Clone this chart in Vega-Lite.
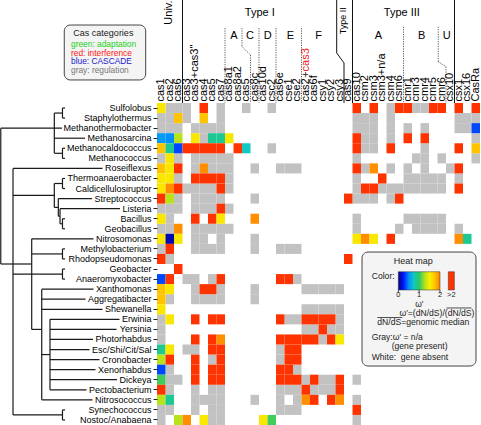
{
"$schema":"https://vega.github.io/schema/vega-lite/v6.json",
"width":323,"height":322,
"autosize":{"type":"none"},
"padding":{"left":157,"top":103,"right":1,"bottom":0},
"background":"white",
"config":{"view":{"stroke":null},"font":"Liberation Sans"},
"resolve":{"scale":{"x":"independent","y":"independent","color":"independent"}},
"layer":[
{
"data":{"values":[
{"org":"Sulfolobus","gene":0,"w":1.55},{"org":"Sulfolobus","gene":1},{"org":"Sulfolobus","gene":2},{"org":"Sulfolobus","gene":3},{"org":"Sulfolobus","gene":5,"w":3},{"org":"Sulfolobus","gene":7},{"org":"Sulfolobus","gene":10},{"org":"Sulfolobus","gene":13},{"org":"Sulfolobus","gene":23,"w":3},{"org":"Sulfolobus","gene":25,"w":3},{"org":"Sulfolobus","gene":27},{"org":"Sulfolobus","gene":28,"w":3},{"org":"Sulfolobus","gene":29,"w":3},{"org":"Sulfolobus","gene":30},{"org":"Sulfolobus","gene":31},{"org":"Sulfolobus","gene":32,"w":3},{"org":"Sulfolobus","gene":33,"w":3},{"org":"Sulfolobus","gene":35,"w":3},{"org":"Sulfolobus","gene":37,"w":3},
{"org":"Staphylothermus","gene":0},{"org":"Staphylothermus","gene":1},{"org":"Staphylothermus","gene":2,"w":1.75},{"org":"Staphylothermus","gene":3},{"org":"Staphylothermus","gene":5,"w":1.75},{"org":"Staphylothermus","gene":7},{"org":"Staphylothermus","gene":23},{"org":"Staphylothermus","gene":24},{"org":"Staphylothermus","gene":25},{"org":"Staphylothermus","gene":27},{"org":"Staphylothermus","gene":35},{"org":"Staphylothermus","gene":36},{"org":"Staphylothermus","gene":37},
{"org":"Methanothermobacter","gene":0},{"org":"Methanothermobacter","gene":1},{"org":"Methanothermobacter","gene":2},{"org":"Methanothermobacter","gene":4},{"org":"Methanothermobacter","gene":5},{"org":"Methanothermobacter","gene":6},{"org":"Methanothermobacter","gene":7},{"org":"Methanothermobacter","gene":23},{"org":"Methanothermobacter","gene":24},{"org":"Methanothermobacter","gene":25},{"org":"Methanothermobacter","gene":27},{"org":"Methanothermobacter","gene":29},{"org":"Methanothermobacter","gene":31},{"org":"Methanothermobacter","gene":35},{"org":"Methanothermobacter","gene":36},{"org":"Methanothermobacter","gene":37,"w":0.35},
{"org":"Methanosarcina","gene":0,"w":0.55},{"org":"Methanosarcina","gene":1,"w":0.5},{"org":"Methanosarcina","gene":2,"w":1.3},{"org":"Methanosarcina","gene":4,"w":1.55},{"org":"Methanosarcina","gene":5},{"org":"Methanosarcina","gene":6,"w":0.88},{"org":"Methanosarcina","gene":7,"w":0.88},{"org":"Methanosarcina","gene":8,"w":1.55},{"org":"Methanosarcina","gene":23,"w":3},{"org":"Methanosarcina","gene":24},{"org":"Methanosarcina","gene":25},{"org":"Methanosarcina","gene":27},{"org":"Methanosarcina","gene":29,"w":3},{"org":"Methanosarcina","gene":31,"w":3},{"org":"Methanosarcina","gene":37},
{"org":"Methanocaldococcus","gene":0,"w":1.75},{"org":"Methanocaldococcus","gene":1,"w":0.88},{"org":"Methanocaldococcus","gene":2,"w":0.35},{"org":"Methanocaldococcus","gene":3,"w":3},{"org":"Methanocaldococcus","gene":4,"w":3},{"org":"Methanocaldococcus","gene":5,"w":3},{"org":"Methanocaldococcus","gene":6,"w":3},{"org":"Methanocaldococcus","gene":7,"w":3},{"org":"Methanocaldococcus","gene":9,"w":3},{"org":"Methanocaldococcus","gene":10,"w":0.75},{"org":"Methanocaldococcus","gene":13},{"org":"Methanocaldococcus","gene":23,"w":3},{"org":"Methanocaldococcus","gene":24},{"org":"Methanocaldococcus","gene":25},{"org":"Methanocaldococcus","gene":27,"w":3},{"org":"Methanocaldococcus","gene":31},{"org":"Methanocaldococcus","gene":35,"w":3},{"org":"Methanocaldococcus","gene":37,"w":1.75},
{"org":"Methanococcus","gene":0},{"org":"Methanococcus","gene":1,"w":1.55},{"org":"Methanococcus","gene":2},{"org":"Methanococcus","gene":4},{"org":"Methanococcus","gene":5},{"org":"Methanococcus","gene":6},{"org":"Methanococcus","gene":7},{"org":"Methanococcus","gene":8},{"org":"Methanococcus","gene":23},{"org":"Methanococcus","gene":30},{"org":"Methanococcus","gene":31},{"org":"Methanococcus","gene":33},{"org":"Methanococcus","gene":37},
{"org":"Roseiflexus","gene":0,"w":1.75},{"org":"Roseiflexus","gene":1,"w":1.55},{"org":"Roseiflexus","gene":2,"w":3},{"org":"Roseiflexus","gene":4},{"org":"Roseiflexus","gene":5,"w":1.95},{"org":"Roseiflexus","gene":6},{"org":"Roseiflexus","gene":7},{"org":"Roseiflexus","gene":8},{"org":"Roseiflexus","gene":11},{"org":"Roseiflexus","gene":14},{"org":"Roseiflexus","gene":15},{"org":"Roseiflexus","gene":16},{"org":"Roseiflexus","gene":23,"w":3},{"org":"Roseiflexus","gene":24},{"org":"Roseiflexus","gene":25,"w":1.95},{"org":"Roseiflexus","gene":27},{"org":"Roseiflexus","gene":29},{"org":"Roseiflexus","gene":31},{"org":"Roseiflexus","gene":34},{"org":"Roseiflexus","gene":35,"w":3},
{"org":"Thermoanaerobacter","gene":0,"w":1.55},{"org":"Thermoanaerobacter","gene":1,"w":1.55},{"org":"Thermoanaerobacter","gene":2},{"org":"Thermoanaerobacter","gene":4,"w":3},{"org":"Thermoanaerobacter","gene":5,"w":3},{"org":"Thermoanaerobacter","gene":6,"w":3},{"org":"Thermoanaerobacter","gene":7,"w":3},{"org":"Thermoanaerobacter","gene":8},{"org":"Thermoanaerobacter","gene":23},{"org":"Thermoanaerobacter","gene":26,"w":3},{"org":"Thermoanaerobacter","gene":29},{"org":"Thermoanaerobacter","gene":30},{"org":"Thermoanaerobacter","gene":31},{"org":"Thermoanaerobacter","gene":32},{"org":"Thermoanaerobacter","gene":33},{"org":"Thermoanaerobacter","gene":35},
{"org":"Caldicellulosiruptor","gene":0,"w":1.55},{"org":"Caldicellulosiruptor","gene":1,"w":1.95},{"org":"Caldicellulosiruptor","gene":2,"w":3},{"org":"Caldicellulosiruptor","gene":3},{"org":"Caldicellulosiruptor","gene":4},{"org":"Caldicellulosiruptor","gene":5},{"org":"Caldicellulosiruptor","gene":6},{"org":"Caldicellulosiruptor","gene":7,"w":3},{"org":"Caldicellulosiruptor","gene":8},{"org":"Caldicellulosiruptor","gene":23},{"org":"Caldicellulosiruptor","gene":24,"w":3},{"org":"Caldicellulosiruptor","gene":25,"w":3},{"org":"Caldicellulosiruptor","gene":26},{"org":"Caldicellulosiruptor","gene":27},{"org":"Caldicellulosiruptor","gene":28},{"org":"Caldicellulosiruptor","gene":29},{"org":"Caldicellulosiruptor","gene":30},{"org":"Caldicellulosiruptor","gene":31},{"org":"Caldicellulosiruptor","gene":32},{"org":"Caldicellulosiruptor","gene":33},{"org":"Caldicellulosiruptor","gene":35,"w":3},
{"org":"Streptococcus","gene":0,"w":3},{"org":"Streptococcus","gene":1,"w":1.3},{"org":"Streptococcus","gene":2},{"org":"Streptococcus","gene":4},{"org":"Streptococcus","gene":5},{"org":"Streptococcus","gene":6},{"org":"Streptococcus","gene":7},{"org":"Streptococcus","gene":11},{"org":"Streptococcus","gene":22,"w":3},{"org":"Streptococcus","gene":23},{"org":"Streptococcus","gene":24},{"org":"Streptococcus","gene":25},{"org":"Streptococcus","gene":27},{"org":"Streptococcus","gene":28,"w":3},
{"org":"Listeria","gene":0},{"org":"Listeria","gene":1},{"org":"Listeria","gene":2},{"org":"Listeria","gene":4},{"org":"Listeria","gene":5},{"org":"Listeria","gene":6},{"org":"Listeria","gene":7,"w":3},{"org":"Listeria","gene":8},
{"org":"Bacillus","gene":0,"w":1.55},{"org":"Bacillus","gene":1},{"org":"Bacillus","gene":4,"w":3},{"org":"Bacillus","gene":6,"w":3},{"org":"Bacillus","gene":7,"w":1.55},{"org":"Bacillus","gene":11,"w":1.95},{"org":"Bacillus","gene":23},{"org":"Bacillus","gene":29},{"org":"Bacillus","gene":30},{"org":"Bacillus","gene":31},{"org":"Bacillus","gene":32},{"org":"Bacillus","gene":33},
{"org":"Geobacillus","gene":0},{"org":"Geobacillus","gene":1},{"org":"Geobacillus","gene":2,"w":1.95},{"org":"Geobacillus","gene":4},{"org":"Geobacillus","gene":5},{"org":"Geobacillus","gene":6},{"org":"Geobacillus","gene":7},{"org":"Geobacillus","gene":8},{"org":"Geobacillus","gene":23},{"org":"Geobacillus","gene":28},{"org":"Geobacillus","gene":30},{"org":"Geobacillus","gene":31},{"org":"Geobacillus","gene":32},{"org":"Geobacillus","gene":33},{"org":"Geobacillus","gene":35},
{"org":"Nitrosomonas","gene":0,"w":1.55},{"org":"Nitrosomonas","gene":1,"w":0.1},{"org":"Nitrosomonas","gene":2,"w":1.55},{"org":"Nitrosomonas","gene":4},{"org":"Nitrosomonas","gene":5},{"org":"Nitrosomonas","gene":7},{"org":"Nitrosomonas","gene":11},{"org":"Nitrosomonas","gene":23,"w":1.55},{"org":"Nitrosomonas","gene":24,"w":1.95},{"org":"Nitrosomonas","gene":25,"w":1.55},{"org":"Nitrosomonas","gene":27,"w":3},{"org":"Nitrosomonas","gene":35,"w":1.95},{"org":"Nitrosomonas","gene":36,"w":0.88},
{"org":"Methylobacterium","gene":0},{"org":"Methylobacterium","gene":1,"w":3},{"org":"Methylobacterium","gene":4},{"org":"Methylobacterium","gene":5},{"org":"Methylobacterium","gene":6},{"org":"Methylobacterium","gene":7},{"org":"Methylobacterium","gene":11},{"org":"Methylobacterium","gene":14},{"org":"Methylobacterium","gene":15},{"org":"Methylobacterium","gene":16},
{"org":"Rhodopseudomonas","gene":0,"w":3},{"org":"Rhodopseudomonas","gene":1},{"org":"Rhodopseudomonas","gene":22,"w":3},
{"org":"Geobacter","gene":2,"w":3},
{"org":"Anaeromyxobacter","gene":0,"w":0.35},{"org":"Anaeromyxobacter","gene":1,"w":3},{"org":"Anaeromyxobacter","gene":3},{"org":"Anaeromyxobacter","gene":4},{"org":"Anaeromyxobacter","gene":6},{"org":"Anaeromyxobacter","gene":7,"w":3},{"org":"Anaeromyxobacter","gene":14,"w":3},{"org":"Anaeromyxobacter","gene":15,"w":3},{"org":"Anaeromyxobacter","gene":16},
{"org":"Xanthomonas","gene":0,"w":1.75},{"org":"Xanthomonas","gene":1,"w":1.55},{"org":"Xanthomonas","gene":4},{"org":"Xanthomonas","gene":5,"w":3},{"org":"Xanthomonas","gene":6,"w":3},{"org":"Xanthomonas","gene":7},{"org":"Xanthomonas","gene":11},{"org":"Xanthomonas","gene":17},{"org":"Xanthomonas","gene":18},{"org":"Xanthomonas","gene":19},{"org":"Xanthomonas","gene":20},{"org":"Xanthomonas","gene":21},
{"org":"Aggregatibacter","gene":0,"w":1.75},{"org":"Aggregatibacter","gene":1},{"org":"Aggregatibacter","gene":4},{"org":"Aggregatibacter","gene":5},{"org":"Aggregatibacter","gene":6},{"org":"Aggregatibacter","gene":7},{"org":"Aggregatibacter","gene":11},
{"org":"Shewanella","gene":0,"w":1.55},{"org":"Shewanella","gene":17},{"org":"Shewanella","gene":18},{"org":"Shewanella","gene":19},{"org":"Shewanella","gene":20},{"org":"Shewanella","gene":21},
{"org":"Erwinia","gene":0},{"org":"Erwinia","gene":1,"w":1.55},{"org":"Erwinia","gene":4,"w":3},{"org":"Erwinia","gene":6,"w":3},{"org":"Erwinia","gene":7,"w":3},{"org":"Erwinia","gene":14,"w":3},{"org":"Erwinia","gene":15},{"org":"Erwinia","gene":16},{"org":"Erwinia","gene":17,"w":3},{"org":"Erwinia","gene":18,"w":3},{"org":"Erwinia","gene":19,"w":3},{"org":"Erwinia","gene":20,"w":3},{"org":"Erwinia","gene":21},
{"org":"Yersinia","gene":0},{"org":"Yersinia","gene":17},{"org":"Yersinia","gene":18},{"org":"Yersinia","gene":19,"w":3},{"org":"Yersinia","gene":20},{"org":"Yersinia","gene":21},
{"org":"Photorhabdus","gene":0},{"org":"Photorhabdus","gene":4,"w":3},{"org":"Photorhabdus","gene":6,"w":3},{"org":"Photorhabdus","gene":7,"w":1.95},{"org":"Photorhabdus","gene":14,"w":3},{"org":"Photorhabdus","gene":15,"w":3},{"org":"Photorhabdus","gene":16,"w":3},{"org":"Photorhabdus","gene":17,"w":3},{"org":"Photorhabdus","gene":18,"w":3},{"org":"Photorhabdus","gene":19},{"org":"Photorhabdus","gene":20,"w":3},{"org":"Photorhabdus","gene":21,"w":1.55},
{"org":"Esc/Shi/Cit/Sal","gene":0,"w":0.88},{"org":"Esc/Shi/Cit/Sal","gene":1,"w":1.55},{"org":"Esc/Shi/Cit/Sal","gene":3},{"org":"Esc/Shi/Cit/Sal","gene":4},{"org":"Esc/Shi/Cit/Sal","gene":6,"w":3},{"org":"Esc/Shi/Cit/Sal","gene":7,"w":3},{"org":"Esc/Shi/Cit/Sal","gene":14},{"org":"Esc/Shi/Cit/Sal","gene":15,"w":3},{"org":"Esc/Shi/Cit/Sal","gene":16,"w":3},
{"org":"Cronobacter","gene":0,"w":1.3},{"org":"Cronobacter","gene":1,"w":3},{"org":"Cronobacter","gene":4,"w":3},{"org":"Cronobacter","gene":6},{"org":"Cronobacter","gene":7,"w":3},{"org":"Cronobacter","gene":14},{"org":"Cronobacter","gene":15,"w":3},{"org":"Cronobacter","gene":16,"w":3},
{"org":"Xenorhabdus","gene":0,"w":0.35},{"org":"Xenorhabdus","gene":1},{"org":"Xenorhabdus","gene":4,"w":3},{"org":"Xenorhabdus","gene":6,"w":3},{"org":"Xenorhabdus","gene":7,"w":3},{"org":"Xenorhabdus","gene":14,"w":3},{"org":"Xenorhabdus","gene":15,"w":3},{"org":"Xenorhabdus","gene":16},
{"org":"Dickeya","gene":0,"w":1.05},{"org":"Dickeya","gene":1},{"org":"Dickeya","gene":2},{"org":"Dickeya","gene":4,"w":3},{"org":"Dickeya","gene":6,"w":3},{"org":"Dickeya","gene":7,"w":3},{"org":"Dickeya","gene":14,"w":3},{"org":"Dickeya","gene":15,"w":3},{"org":"Dickeya","gene":16,"w":3},{"org":"Dickeya","gene":17},{"org":"Dickeya","gene":18,"w":3},{"org":"Dickeya","gene":19},{"org":"Dickeya","gene":20},{"org":"Dickeya","gene":21,"w":3},{"org":"Dickeya","gene":23},
{"org":"Pectobacterium","gene":0,"w":3},{"org":"Pectobacterium","gene":1},{"org":"Pectobacterium","gene":4},{"org":"Pectobacterium","gene":6},{"org":"Pectobacterium","gene":7},{"org":"Pectobacterium","gene":14},{"org":"Pectobacterium","gene":15},{"org":"Pectobacterium","gene":16},{"org":"Pectobacterium","gene":17,"w":3},{"org":"Pectobacterium","gene":18},{"org":"Pectobacterium","gene":19},{"org":"Pectobacterium","gene":20},{"org":"Pectobacterium","gene":21,"w":3},
{"org":"Nitrosococcus","gene":0,"w":1.3},{"org":"Nitrosococcus","gene":1,"w":0.88},{"org":"Nitrosococcus","gene":4},{"org":"Nitrosococcus","gene":5},{"org":"Nitrosococcus","gene":6},{"org":"Nitrosococcus","gene":7},{"org":"Nitrosococcus","gene":11},{"org":"Nitrosococcus","gene":14},{"org":"Nitrosococcus","gene":16},{"org":"Nitrosococcus","gene":17,"w":1.95},{"org":"Nitrosococcus","gene":18,"w":3},{"org":"Nitrosococcus","gene":20,"w":3},{"org":"Nitrosococcus","gene":21,"w":1.95},{"org":"Nitrosococcus","gene":23},
{"org":"Synechococcus","gene":0},{"org":"Synechococcus","gene":1},{"org":"Synechococcus","gene":4},{"org":"Synechococcus","gene":6},{"org":"Synechococcus","gene":7},{"org":"Synechococcus","gene":14},{"org":"Synechococcus","gene":15},{"org":"Synechococcus","gene":16},{"org":"Synechococcus","gene":23,"w":3},
{"org":"Nostoc/Anabaena","gene":0},{"org":"Nostoc/Anabaena","gene":2,"w":1.3},{"org":"Nostoc/Anabaena","gene":3,"w":1.95},{"org":"Nostoc/Anabaena","gene":5,"w":1.55},{"org":"Nostoc/Anabaena","gene":6},{"org":"Nostoc/Anabaena","gene":7},{"org":"Nostoc/Anabaena","gene":12,"w":1.55},{"org":"Nostoc/Anabaena","gene":13,"w":1.05},{"org":"Nostoc/Anabaena","gene":23}
]},
"encoding":{
"x":{"field":"gene","type":"ordinal","scale":{"domain":[0,1,2,3,4,5,6,7,8,9,10,11,12,13,14,15,16,17,18,19,20,21,22,23,24,25,26,27,28,29,30,31,32,33,34,35,36,37],"paddingInner":0,"paddingOuter":0},
"axis":{"orient":"top","title":null,"labelAngle":-90,"labelAlign":"left","labelBaseline":"middle","labelFontSize":11,"labelPadding":2,"ticks":false,"tickSize":0,"domain":false,"labelOverlap":false,"labelBound":false,"labelFlush":false,
"labelExpr":"[\"cas1\",\"cas2\",\"cas6\",\"cas3\",\"cas3+cas3''\",\"cas4\",\"cas5\",\"cas7\",\"cas8a1\",\"cas8a2\",\"cas5\",\"cas8c\",\"cas10d\",\"csc2\",\"cas6e\",\"cse1\",\"cse2\",\"cas2\",\"cas6f\",\"csy1\",\"csy2\",\"csy3\",\"cas9\",\"cas10\",\"csm2\",\"csm3\",\"csm3+n/a\",\"csm4\",\"csm6\",\"cmr1\",\"cmr3\",\"cmr4\",\"cmr5\",\"cmr6\",\"csx10\",\"csx1\",\"csx16\",\"CasRa\"][datum.value]",
"encode":{"labels":{"update":{"fill":{"signal":"['#22cc22','#22cc22','#2222cc','#ee2222','#ee2222','#22cc22','#2222cc','#2222cc','#2222cc','#2222cc','#2222cc','#2222cc','#2222cc','#2222cc','#2222cc','#2222cc','#2222cc','#22cc22','#2222cc','#2222cc','#2222cc','#2222cc','#222222','#2222cc','#2222cc','#2222cc','#2222cc','#2222cc','#a6a6a6','#2222cc','#2222cc','#2222cc','#2222cc','#2222cc','#2222cc','#a6a6a6','#a6a6a6','#a6a6a6'][datum.value]"}}}}}},
"y":{"field":"org","type":"nominal","scale":{"domain":["Sulfolobus","Staphylothermus","Methanothermobacter","Methanosarcina","Methanocaldococcus","Methanococcus","Roseiflexus","Thermoanaerobacter","Caldicellulosiruptor","Streptococcus","Listeria","Bacillus","Geobacillus","Nitrosomonas","Methylobacterium","Rhodopseudomonas","Geobacter","Anaeromyxobacter","Xanthomonas","Aggregatibacter","Shewanella","Erwinia","Yersinia","Photorhabdus","Esc/Shi/Cit/Sal","Cronobacter","Xenorhabdus","Dickeya","Pectobacterium","Nitrosococcus","Synechococcus","Nostoc/Anabaena"],"paddingInner":0,"paddingOuter":0},
"axis":{"orient":"left","title":null,"labelFontSize":9,"labelColor":"#000","labelPadding":2,"tickSize":4,"tickColor":"#222","tickWidth":1,"domain":false,"labelOverlap":false,"labelBound":false}}
},
"layer":[
{"transform":[{"filter":"!isValid(datum.w)"}],"mark":{"type":"rect","color":"#c2c2c2"}},
{"transform":[{"filter":"isValid(datum.w)"}],"mark":{"type":"rect"},
"encoding":{"color":{"field":"w","type":"quantitative","legend":null,"scale":{"type":"linear","domain":[0,0.25,0.5,0.75,1,1.25,1.5,1.75,2,2.01,10],"range":["#00007f","#0018ff","#0090ff","#12c8c0","#28c868","#a8e020","#f8f000","#ffc400","#ff8000","#ff3300","#ff3300"],"interpolate":"rgb","clamp":true,"zero":false,"nice":false}}}}
]
},
{
"encoding":{
"x":{"field":"x","type":"quantitative","scale":{"domain":[0,38],"nice":false,"zero":false},"axis":null},
"y":{"field":"y","type":"quantitative","scale":{"domain":[0,32],"nice":false,"zero":false,"reverse":true},"axis":null}
},
"layer":[
{"data":{"values":[
{"x":-18.38,"x2":-18.38,"y":2.5,"y2":16},
{"x":-18.38,"x2":-11.18,"y":2.5,"y2":2.5},
{"x":-18.38,"x2":-14.74,"y":16,"y2":16},
{"x":-12.08,"x2":-12.08,"y":1,"y2":5},
{"x":-12.08,"x2":-11.12,"y":1,"y2":1},
{"x":-11.12,"x2":-11.12,"y":0.5,"y2":1.5},
{"x":-11.12,"x2":-10.82,"y":0.5,"y2":0.5},
{"x":-11.12,"x2":-10.82,"y":1.5,"y2":1.5},
{"x":-12.08,"x2":-8.47,"y":3.5,"y2":3.5},
{"x":-12.08,"x2":-11.12,"y":5,"y2":5},
{"x":-11.12,"x2":-11.12,"y":4.5,"y2":5.5},
{"x":-11.12,"x2":-10.82,"y":4.5,"y2":4.5},
{"x":-11.12,"x2":-10.82,"y":5.5,"y2":5.5},
{"x":-16.94,"x2":-16.94,"y":6.5,"y2":31},
{"x":-16.94,"x2":-6.41,"y":6.5,"y2":6.5},
{"x":-16.94,"x2":-12.08,"y":9.19,"y2":9.19},
{"x":-16.94,"x2":-11.12,"y":17,"y2":17},
{"x":-11.12,"x2":-11.12,"y":16.5,"y2":17.5},
{"x":-11.12,"x2":-10.82,"y":16.5,"y2":16.5},
{"x":-11.12,"x2":-10.82,"y":17.5,"y2":17.5},
{"x":-16.94,"x2":-11.12,"y":31,"y2":31},
{"x":-11.12,"x2":-11.12,"y":30.5,"y2":31.5},
{"x":-11.12,"x2":-10.82,"y":30.5,"y2":30.5},
{"x":-11.12,"x2":-10.82,"y":31.5,"y2":31.5},
{"x":-12.08,"x2":-12.08,"y":8,"y2":10.375},
{"x":-12.08,"x2":-11.12,"y":8,"y2":8},
{"x":-11.12,"x2":-11.12,"y":7.5,"y2":8.5},
{"x":-11.12,"x2":-10.82,"y":7.5,"y2":7.5},
{"x":-11.12,"x2":-10.82,"y":8.5,"y2":8.5},
{"x":-12.08,"x2":-11.61,"y":10.375,"y2":10.375},
{"x":-11.61,"x2":-11.61,"y":9.5,"y2":11.25},
{"x":-11.61,"x2":-7.65,"y":9.5,"y2":9.5},
{"x":-11.61,"x2":-11.41,"y":11.25,"y2":11.25},
{"x":-11.41,"x2":-11.41,"y":10.5,"y2":12},
{"x":-11.41,"x2":-4.35,"y":10.5,"y2":10.5},
{"x":-11.41,"x2":-11.12,"y":12,"y2":12},
{"x":-11.12,"x2":-11.12,"y":11.5,"y2":12.5},
{"x":-11.12,"x2":-10.82,"y":11.5,"y2":11.5},
{"x":-11.12,"x2":-10.82,"y":12.5,"y2":12.5},
{"x":-14.74,"x2":-14.74,"y":13.5,"y2":22.5},
{"x":-14.74,"x2":-7.47,"y":13.5,"y2":13.5},
{"x":-14.74,"x2":-11.12,"y":15,"y2":15},
{"x":-11.12,"x2":-11.12,"y":14.5,"y2":15.5},
{"x":-11.12,"x2":-10.82,"y":14.5,"y2":14.5},
{"x":-11.12,"x2":-10.82,"y":15.5,"y2":15.5},
{"x":-14.74,"x2":-13.56,"y":22.5,"y2":22.5},
{"x":-13.56,"x2":-13.56,"y":18.5,"y2":29.5},
{"x":-13.56,"x2":-7.47,"y":18.5,"y2":18.5},
{"x":-13.56,"x2":-8.41,"y":19.5,"y2":19.5},
{"x":-13.56,"x2":-6.41,"y":20.5,"y2":20.5},
{"x":-13.56,"x2":-12.59,"y":25,"y2":25},
{"x":-13.56,"x2":-7.59,"y":29.5,"y2":29.5},
{"x":-12.59,"x2":-12.59,"y":21.5,"y2":28.5},
{"x":-12.59,"x2":-4.41,"y":21.5,"y2":21.5},
{"x":-12.59,"x2":-4.76,"y":22.5,"y2":22.5},
{"x":-12.59,"x2":-7.53,"y":23.5,"y2":23.5},
{"x":-12.59,"x2":-7.94,"y":24.5,"y2":24.5},
{"x":-12.59,"x2":-6.76,"y":25.5,"y2":25.5},
{"x":-12.59,"x2":-7.24,"y":26.5,"y2":26.5},
{"x":-12.59,"x2":-4.71,"y":27.5,"y2":27.5},
{"x":-12.59,"x2":-8.29,"y":28.5,"y2":28.5}
]},"mark":{"type":"rule","color":"#1a1a1a","strokeWidth":1.2},"encoding":{"x2":{"field":"x2"},"y2":{"field":"y2"}}},
{"data":{"values":[
{"x":3,"x2":3,"y":-10.3,"y2":0},
{"x":21.14,"x2":21.14,"y":-10.3,"y2":-4.97},
{"x":21.14,"x2":22,"y":-4.97,"y2":-3.98},
{"x":22,"x2":22,"y":-3.98,"y2":0},
{"x":23,"x2":23,"y":-10.3,"y2":0},
{"x":35,"x2":35,"y":-10.3,"y2":0}
]},"mark":{"type":"rule","color":"#111","strokeWidth":1},"encoding":{"x2":{"field":"x2"},"y2":{"field":"y2"}}},
{"data":{"values":[
{"x":8,"x2":8,"y":-7.45,"y2":0},
{"x":10,"x2":10,"y":-7.45,"y2":-5.6},
{"x":10,"x2":11,"y":-5.6,"y2":-4.77},
{"x":11,"x2":11,"y":-4.77,"y2":0},
{"x":12,"x2":12,"y":-7.45,"y2":0},
{"x":14,"x2":14,"y":-7.45,"y2":0},
{"x":17,"x2":17,"y":-7.45,"y2":0},
{"x":29,"x2":29,"y":-7.58,"y2":0},
{"x":33.09,"x2":33.09,"y":-7.58,"y2":-4.11},
{"x":33.09,"x2":34,"y":-4.11,"y2":-3.61},
{"x":34,"x2":34,"y":-3.61,"y2":0}
]},"mark":{"type":"rule","color":"#333","strokeWidth":0.8,"strokeDash":[1.2,1.2]},"encoding":{"x2":{"field":"x2"},"y2":{"field":"y2"}}},
{"data":{"values":[
{"x":12.1,"y":-8.97,"t":"Type I"},
{"x":9.06,"y":-6.66,"t":"A"},
{"x":10.94,"y":-6.66,"t":"C"},
{"x":13.02,"y":-6.66,"t":"D"},
{"x":15.7,"y":-6.66,"t":"E"},
{"x":19.0,"y":-6.66,"t":"F"},
{"x":28.8,"y":-8.97,"t":"Type III"},
{"x":26.04,"y":-6.66,"t":"A"},
{"x":31.14,"y":-6.66,"t":"B"},
{"x":34.08,"y":-6.66,"t":"U"}
]},"mark":{"type":"text","fontSize":11,"align":"center","baseline":"middle","color":"#000"},"encoding":{"text":{"field":"t"}}},
{"data":{"values":[{"x":1.43,"y":-8.99,"t":"Univ."}]},"mark":{"type":"text","fontSize":11,"angle":270,"align":"center","baseline":"middle","color":"#000"},"encoding":{"text":{"field":"t"}}},
{"data":{"values":[{"x":21.9,"y":-8.17,"t":"Type II"}]},"mark":{"type":"text","fontSize":9,"angle":270,"align":"center","baseline":"middle","color":"#000"},"encoding":{"text":{"field":"t"}}},
{"data":{"values":[{"x":17.5,"y":-2.82,"t":"+"}]},"mark":{"type":"text","fontSize":11,"angle":270,"align":"center","baseline":"middle","color":"#222"},"encoding":{"text":{"field":"t"}}},
{"data":{"values":[{"x":17.5,"y":-4.29,"t":"cas3"}]},"mark":{"type":"text","fontSize":11,"angle":270,"align":"center","baseline":"middle","color":"#ee2222"},"encoding":{"text":{"field":"t"}}},
{"data":{"values":[{"x":-10.91,"x2":-1.33,"y":-7.75,"y2":-2.29},{"x":24.12,"x2":37.53,"y":14.81,"y2":26.14}]},"mark":{"type":"rect","fill":"#f4f4f4","stroke":"#444","strokeWidth":1,"cornerRadius":6},"encoding":{"x2":{"field":"x2"},"y2":{"field":"y2"}}},
{"data":{"values":[{"x":-6.31,"y":-6.93,"t":"Cas categories"}]},"mark":{"type":"text","fontSize":9,"align":"center","baseline":"middle","color":"#222"},"encoding":{"text":{"field":"t"}}},
{"data":{"values":[
{"x":-10.12,"y":-5.883,"t":"green: adaptation","k":"adaptation"},
{"x":-10.12,"y":-5.009,"t":"red: interference","k":"interference"},
{"x":-10.12,"y":-4.134,"t":"blue: CASCADE","k":"CASCADE"},
{"x":-10.12,"y":-3.26,"t":"gray: regulation","k":"regulation"}
]},"mark":{"type":"text","fontSize":8.4,"align":"left","baseline":"middle"},"encoding":{"text":{"field":"t"},"color":{"field":"k","type":"nominal","legend":null,"scale":{"domain":["adaptation","interference","CASCADE","regulation"],"range":["#22d022","#ff2020","#2020d0","#777777"]}}}},
{"data":{"values":[{"x":28.39,"x2":33.29,"y":16.77,"y2":18.58}]},"mark":{"type":"rect","stroke":"#333","strokeWidth":0.5,"fill":{"gradient":"linear","x1":0,"y1":0,"x2":1,"y2":0,"stops":[{"offset":0,"color":"#00007f"},{"offset":0.125,"color":"#0018ff"},{"offset":0.25,"color":"#0090ff"},{"offset":0.375,"color":"#12c8c0"},{"offset":0.5,"color":"#28c868"},{"offset":0.625,"color":"#a8e020"},{"offset":0.75,"color":"#f8f000"},{"offset":0.875,"color":"#ffc400"},{"offset":1,"color":"#ff8000"}]}},"encoding":{"x2":{"field":"x2"},"y2":{"field":"y2"}}},
{"data":{"values":[{"x":34.27,"x2":34.98,"y":16.77,"y2":18.58}]},"mark":{"type":"rect","fill":"#ff3300","stroke":"#333","strokeWidth":0.5},"encoding":{"x2":{"field":"x2"},"y2":{"field":"y2"}}},
{"data":{"values":[
{"x":28.39,"x2":28.39,"y":18.58,"y2":18.88},
{"x":30.84,"x2":30.84,"y":18.58,"y2":18.88},
{"x":33.29,"x2":33.29,"y":18.58,"y2":18.88},
{"x":34.06,"x2":37.0,"y":20.37,"y2":20.37},
{"x":25.92,"x2":28.86,"y":21.32,"y2":21.32}
]},"mark":{"type":"rule","color":"#222","strokeWidth":0.8},"encoding":{"x2":{"field":"x2"},"y2":{"field":"y2"}}},
{"data":{"values":[
{"x":30.15,"y":15.7,"t":"Heat map"}
]},"mark":{"type":"text","fontSize":9,"align":"center","baseline":"middle","color":"#222"},"encoding":{"text":{"field":"t"}}},
{"data":{"values":[
{"x":28.39,"y":19.08,"t":"0"},
{"x":30.84,"y":19.08,"t":"1"},
{"x":33.29,"y":19.08,"t":"2"},
{"x":34.63,"y":19.08,"t":">2"}
]},"mark":{"type":"text","fontSize":7.5,"align":"center","baseline":"middle","color":"#222"},"encoding":{"text":{"field":"t"}}},
{"data":{"values":[
{"x":30.86,"y":19.93,"t":"ω'"}
]},"mark":{"type":"text","fontSize":8.5,"align":"center","baseline":"middle","color":"#222"},"encoding":{"text":{"field":"t"}}},
{"data":{"values":[
{"x":25.26,"y":17.16,"t":"Color:"},
{"x":25.92,"y":21.78,"t":"dN/dS=genomic median"},
{"x":25.26,"y":23.28,"t":"Gray:ω' = n/a"},
{"x":27.61,"y":24.15,"t":"(gene present)"},
{"x":25.26,"y":25.27,"t":"White:\u00a0 gene absent"}
]},"mark":{"type":"text","fontSize":8.6,"align":"left","baseline":"middle","color":"#222"},"encoding":{"text":{"field":"t"}}},
{"data":{"values":[{"x":37.35,"y":20.85,"t":"ω'=(dN/dS)/(dN/dS)"}]},"mark":{"type":"text","fontSize":8.6,"align":"right","baseline":"middle","color":"#222"},"encoding":{"text":{"field":"t"}}}
]
}
]
}
